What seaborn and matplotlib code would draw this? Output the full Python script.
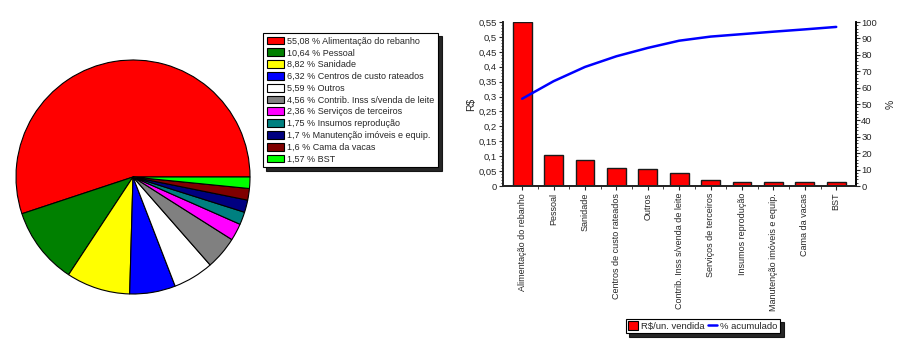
import numpy as np
import pandas as pd
import matplotlib
matplotlib.use("Agg")
import matplotlib.pyplot as plt
import matplotlib.ticker as mticker
from matplotlib.patches import Patch
from matplotlib.lines import Line2D
import seaborn as sns

# ---------------- data ----------------
categories = ["Alimentação do rebanho", "Pessoal", "Sanidade", "Centros de custo rateados",
              "Outros", "Contrib. Inss s/venda de leite", "Serviços de terceiros",
              "Insumos reprodução", "Manutenção imóveis e equip.", "Cama da vacas", "BST"]
pie_labels = ["55,08", "10,64", "8,82", "6,32", "5,59", "4,56", "2,36", "1,75", "1,7", "1,6", "1,57"]
pie_share = [55.08, 10.64, 8.82, 6.32, 5.59, 4.56, 2.36, 1.75, 1.7, 1.6, 1.57]
bar_values = [0.550, 0.105, 0.086, 0.062, 0.056, 0.045, 0.020, 0.015, 0.015, 0.015, 0.015]
cum_pct = [53.2, 63.9, 72.6, 79.1, 84.2, 88.6, 91.1, 92.6, 94.1, 95.5, 97.0]
slice_colors = ["#ff0000", "#008000", "#ffff00", "#0000ff", "#ffffff", "#808080",
                "#ff00ff", "#008080", "#000080", "#800000", "#00ff00"]
left_ticks = [0, 0.05, 0.1, 0.15, 0.2, 0.25, 0.3, 0.35, 0.4, 0.45, 0.5, 0.55]
right_ticks = [0, 10, 20, 30, 40, 50, 60, 70, 80, 90, 100]

sns.set_theme(style="white")
plt.rcParams["font.family"] = ["Liberation Sans", "DejaVu Sans"]
FS = 6.5

W, H = 900, 349
fig = plt.figure(figsize=(W / 100, H / 100), dpi=100)
fig.patch.set_facecolor("white")

def fx(x):
    return x / W

def fy(y):
    return 1 - y / H

# ---------------- pie ----------------
cx, cy, r = 133, 177, 117
axp = fig.add_axes([fx(cx - r), fy(cy + r), 2 * r / W, 2 * r / H])
axp.pie(pie_share, colors=slice_colors, startangle=0, counterclock=True,
        wedgeprops=dict(edgecolor="black", linewidth=0.8))
axp.set_aspect("equal")
axp.set_xlim(-1.0, 1.0)
axp.set_ylim(-1.0, 1.0)
axp.axis("off")

handles = [Patch(facecolor=c, edgecolor="black", linewidth=0.8) for c in slice_colors]
labels = [f"{p} % {c}" for p, c in zip(pie_labels, categories)]
leg = fig.legend(handles, labels, loc="upper left", bbox_to_anchor=(fx(263), fy(33)),
                 fontsize=FS, frameon=True, fancybox=False,
                 shadow={"color": "black", "alpha": 0.85, "ox": 2.5, "oy": -2.5},
                 borderaxespad=0, borderpad=0.4, handlelength=1.9, handleheight=0.95,
                 handletextpad=0.4, labelspacing=0.31)
leg.get_frame().set_edgecolor("black")
leg.get_frame().set_linewidth(0.8)

# ---------------- pareto ----------------
x0, x1, y0, y1 = 502.7, 855.7, 22, 186
ax = fig.add_axes([fx(x0), fy(y1), (x1 - x0) / W, (y1 - y0) / H])
df = pd.DataFrame({"cat": categories, "val": bar_values})
sns.barplot(data=df, x="cat", y="val", ax=ax, color="#ff0000", saturation=1,
            width=0.6, edgecolor="#1a1a1a", linewidth=1.0)
ax.set_xlim(-0.62, len(categories) - 0.38)
ax.set_ylim(0, 0.55)
ax.set_yticks(left_ticks)
ax.set_yticklabels([("%g" % t).replace(".", ",") for t in left_ticks], fontsize=FS + 0.3)
ax.yaxis.set_minor_locator(mticker.MultipleLocator(0.01))
ax.set_xticks(np.arange(len(categories)))
ax.set_xticklabels(categories, rotation=90, fontsize=FS)
ax.set_xlabel("")
ax.set_ylabel("R$", fontsize=FS + 1, labelpad=2)
ax.tick_params(axis="y", which="major", direction="out", length=3, width=0.8, pad=1, left=True)
ax.tick_params(axis="y", which="minor", direction="out", length=1.5, width=0.6, left=True)
ax.tick_params(axis="x", which="major", direction="out", length=3, width=0.8, pad=2, bottom=True)
ax.xaxis.set_minor_locator(mticker.FixedLocator(np.arange(len(categories) - 1) + 0.5))
ax.tick_params(axis="x", which="minor", direction="out", length=2, width=0.6, bottom=True)
ax.spines["top"].set_visible(False)
for s in ["left", "bottom", "right"]:
    ax.spines[s].set_color("black")
    ax.spines[s].set_linewidth(1.2)

ax2 = ax.twinx()
sns.lineplot(x=np.arange(len(categories)), y=cum_pct, ax=ax2, color="#0000ff", linewidth=1.8)
ax2.set_ylim(0, 100)
ax2.set_yticks(right_ticks)
ax2.set_yticklabels([str(t) for t in right_ticks], fontsize=FS + 0.3)
ax2.yaxis.set_minor_locator(mticker.MultipleLocator(2))
ax2.tick_params(axis="y", which="major", direction="out", length=3, width=0.8, pad=1, right=True)
ax2.tick_params(axis="y", which="minor", direction="out", length=1.5, width=0.6, right=True)
ax2.set_ylabel("%", fontsize=FS + 1, labelpad=6)
ax2.spines["top"].set_visible(False)
ax2.spines["right"].set_color("black")
ax2.spines["right"].set_linewidth(1.2)
ax2.grid(False)
ax.grid(False)

lh = [Patch(facecolor="#ff0000", edgecolor="black", linewidth=0.8),
      Line2D([0], [0], color="#0000ff", linewidth=1.8)]
leg2 = fig.legend(lh, ["R$/un. vendida", "% acumulado"], loc="upper left",
                  bbox_to_anchor=(fx(626), fy(319)), ncol=2, fontsize=FS + 0.3,
                  frameon=True, fancybox=False,
                  shadow={"color": "black", "alpha": 0.85, "ox": 2.5, "oy": -2.5},
                  borderaxespad=0, borderpad=0.25, handlelength=1.0, handleheight=1.0,
                  handletextpad=0.3, columnspacing=0.4)
leg2.get_frame().set_edgecolor("black")
leg2.get_frame().set_linewidth(0.8)

fig.savefig("out.png", dpi=100, facecolor="white")
